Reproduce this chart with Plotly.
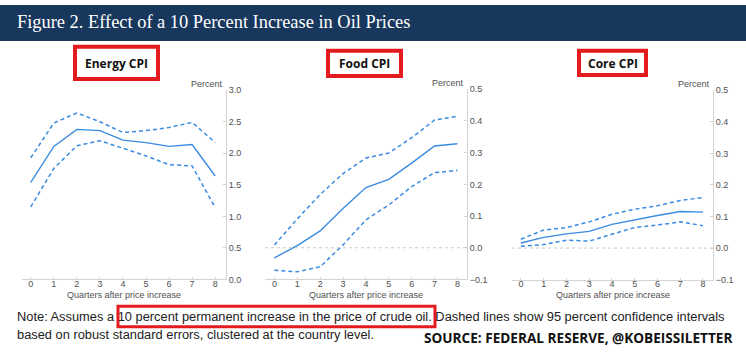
import plotly.graph_objects as go

W, H = 746, 359

quarters = [0, 1, 2, 3, 4, 5, 6, 7, 8]

energy_mid = [1.54, 2.11, 2.38, 2.36, 2.21, 2.17, 2.11, 2.14, 1.64]
energy_up = [1.93, 2.48, 2.64, 2.50, 2.33, 2.36, 2.41, 2.49, 2.17]
energy_lo = [1.15, 1.76, 2.12, 2.20, 2.08, 1.96, 1.82, 1.80, 1.14]

food_mid = [-0.032, 0.007, 0.053, 0.124, 0.19, 0.216, 0.267, 0.321, 0.328]
food_up = [0.009, 0.091, 0.168, 0.234, 0.283, 0.299, 0.347, 0.403, 0.415]
food_lo = [-0.071, -0.076, -0.06, 0.009, 0.088, 0.135, 0.193, 0.237, 0.244]

core_mid = [0.016, 0.034, 0.045, 0.053, 0.075, 0.09, 0.103, 0.116, 0.114]
core_up = [0.028, 0.057, 0.065, 0.083, 0.107, 0.123, 0.134, 0.151, 0.16]
core_lo = [0.006, 0.011, 0.025, 0.022, 0.044, 0.065, 0.073, 0.083, 0.071]

panel_titles = ["Energy CPI", "Food CPI", "Core CPI"]
y_ranges = [[0, 3.0], [-0.1, 0.5], [-0.1, 0.5]]
y_dticks = [0.5, 0.1, 0.1]

title_text = "Figure 2. Effect of a 10 Percent Increase in Oil Prices"
note_line1 = ("Note: Assumes a 10 percent permanent increase in the price of crude oil. "
              "Dashed lines show 95 percent confidence intervals")
note_line2 = "based on robust standard errors, clustered at the country level."
source_text = "SOURCE: FEDERAL RESERVE, @KOBEISSILETTER"


def px(x):
    return x / W


def py(y):
    return 1 - y / H


# layout geometry (pixels)
x_domains = [(22, 226), (265, 467), (512, 713)]
y_domains = [(87.7, 282.3), (86.7, 282.3), (87.7, 282.5)]
x_ranges = [[-0.38, 8.47], [-0.41, 8.42], [-0.39, 8.44]]
boxes = [(73, 41, 160, 78), (326, 45, 403, 75), (577, 45, 648, 74)]

BLUE = "#3a8be2"
AXIS = "#d4d4d4"
SMALL = dict(family="Liberation Sans, Arial", size=9, color="#505050")

series = [(energy_mid, energy_up, energy_lo),
          (food_mid, food_up, food_lo),
          (core_mid, core_up, core_lo)]

fig = go.Figure()
layout = dict(
    width=W, height=H, margin=dict(l=0, r=0, t=0, b=0),
    paper_bgcolor="white", plot_bgcolor="white", showlegend=False,
    shapes=[], annotations=[],
)

for i in range(3):
    n = i + 1
    xa = "x" if n == 1 else f"x{n}"
    ya = "y" if n == 1 else f"y{n}"
    mid, up, lo = series[i]
    for vals, dash, w in [(up, "4px,3px", 1.5), (lo, "4px,3px", 1.5), (mid, "solid", 1.4)]:
        fig.add_trace(go.Scatter(x=quarters, y=vals, mode="lines", xaxis=xa, yaxis=ya,
                                 line=dict(color=BLUE, width=w, dash=dash),
                                 hoverinfo="skip"))
    xd, yd = x_domains[i], y_domains[i]
    layout["xaxis" if n == 1 else f"xaxis{n}"] = dict(
        domain=[px(xd[0]), px(xd[1])], range=x_ranges[i], anchor=ya,
        tickmode="array", tickvals=quarters, ticktext=[str(q) for q in quarters],
        showgrid=False, zeroline=False, showline=True, linecolor=AXIS, linewidth=1,
        ticks="inside", ticklen=2, tickcolor=AXIS, tickfont=SMALL,
        ticklabelstandoff=-4, fixedrange=True,
    )
    layout["yaxis" if n == 1 else f"yaxis{n}"] = dict(
        domain=[py(yd[1]), py(yd[0])], range=y_ranges[i], anchor=xa, side="right",
        dtick=y_dticks[i], tick0=0, tickformat=".1f", showgrid=False, zeroline=False,
        showline=True, linecolor=AXIS, linewidth=1, ticks="inside", ticklen=3,
        tickcolor=AXIS, tickfont=SMALL, fixedrange=True,
    )
    layout[f"yaxis{n + 3}"] = dict(
        overlaying=ya, range=y_ranges[i], anchor=xa, side="left",
        dtick=y_dticks[i], tick0=0, showticklabels=False, showgrid=False,
        zeroline=False, showline=True, linecolor=AXIS, linewidth=1,
        ticks="outside", ticklen=3, tickcolor=AXIS, fixedrange=True,
    )
    # zero reference line
    if y_ranges[i][0] < 0:
        layout["shapes"].append(dict(type="line", xref=f"{xa} domain", yref=ya,
                                     x0=0, x1=1, y0=0, y1=0,
                                     line=dict(color="#c8c8c8", width=1, dash="dot")))
    # x title
    layout["annotations"].append(dict(
        text="Quarters after price increase", xref=f"{xa} domain", yref="paper",
        x=0.5, y=py(298.5), xanchor="center", yanchor="middle", showarrow=False,
        font=SMALL))
    # Percent label
    layout["annotations"].append(dict(
        text="Percent", xref=f"{xa} domain", yref=f"{ya} domain",
        x=1, y=1, xanchor="right", yanchor="bottom", yshift=-1, xshift=-1,
        showarrow=False, font=SMALL))
    # panel title box
    bx0, by0, bx1, by1 = boxes[i]
    layout["shapes"].append(dict(type="rect", xref="paper", yref="paper",
                                 x0=px(bx0 + 2), x1=px(bx1 - 2), y0=py(by1 - 2), y1=py(by0 + 2),
                                 line=dict(color="#e31b1f", width=4), fillcolor="white"))
    layout["annotations"].append(dict(
        text=f"<b>{panel_titles[i]}</b>", xref="paper", yref="paper",
        x=px((bx0 + bx1) / 2), y=py((by0 + by1) / 2 + 0.5), xanchor="center", yanchor="middle",
        showarrow=False, font=dict(family="Open Sans, Arial", size=12, color="#111111")))

# header band
layout["shapes"].insert(0, dict(type="rect", xref="paper", yref="paper",
                                x0=0, x1=1, y0=py(37), y1=1, line=dict(width=0),
                                fillcolor="#17375d", layer="below"))
layout["annotations"].append(dict(
    text=title_text, xref="paper", yref="paper", x=px(15), y=py(18),
    xanchor="left", yanchor="middle", showarrow=False,
    font=dict(family="Liberation Serif, Georgia, serif", size=18.4, color="white")))

# note box
layout["shapes"].append(dict(type="rect", xref="paper", yref="paper",
                             x0=px(118), x1=px(435), y0=py(331), y1=py(310),
                             line=dict(color="#e31b1f", width=3)))
layout["annotations"].append(dict(
    text=note_line1, xref="paper", yref="paper", x=px(15), y=py(320),
    xanchor="left", yanchor="middle", showarrow=False,
    font=dict(family="Liberation Sans, Arial", size=12.85, color="#222222")))
layout["annotations"].append(dict(
    text=note_line2, xref="paper", yref="paper", x=px(15), y=py(339),
    xanchor="left", yanchor="middle", showarrow=False,
    font=dict(family="Liberation Sans, Arial", size=12.85, color="#222222")))
layout["annotations"].append(dict(
    text=f"<b>{source_text}</b>", xref="paper", yref="paper", x=px(734), y=py(342),
    xanchor="right", yanchor="middle", showarrow=False,
    font=dict(family="Open Sans, Arial", size=13.6, color="#111111")))

fig.update_layout(**layout)
fig.write_html("out.html", config={"displayModeBar": False},
               post_script="document.body.style.margin='0';document.body.style.padding='0';"
                           "document.documentElement.style.overflow='hidden';")
